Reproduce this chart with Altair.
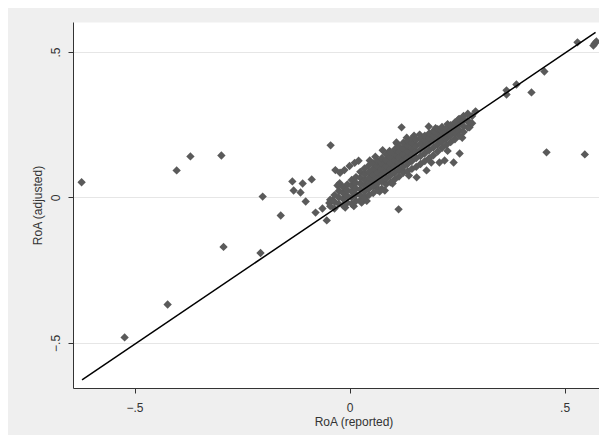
import altair as alt
import pandas as pd

# ---- texts / ticks ----
x_title = "RoA (reported)"
y_title = "RoA (adjusted)"
x_ticks = [-0.5, 0, 0.5]
y_ticks = [-0.5, 0, 0.5]

# ---- scattered firms away from the main cloud (reported, adjusted) ----
outliers_left = [
    (-0.623, 0.052), (-0.523, -0.481), (-0.423, -0.368), (-0.402, 0.093),
    (-0.370, 0.141), (-0.298, 0.144), (-0.293, -0.170), (-0.202, 0.003),
    (-0.207, -0.191), (-0.160, -0.062), (-0.133, 0.055), (-0.130, 0.024),
    (-0.109, 0.048), (-0.114, 0.017), (-0.088, 0.062), (-0.102, -0.014),
    (-0.079, -0.052), (-0.053, -0.079), (-0.044, 0.179), (-0.063, -0.038),
    (-0.033, 0.094), (-0.022, 0.085), (-0.012, 0.094), (0.000, 0.108),
    (0.012, 0.119), (0.021, 0.126), (-0.023, 0.049), (-0.047, -0.019),
    (-0.040, -0.010), (-0.028, 0.041),
]
outliers_right = [
    (0.458, 0.155), (0.547, 0.148), (0.423, 0.361), (0.365, 0.354),
    (0.365, 0.368), (0.388, 0.388), (0.453, 0.433), (0.530, 0.533),
    (0.570, 0.529), (0.574, 0.536), (0.567, 0.522), (0.293, 0.296),
    (0.253, 0.268), (0.274, 0.265), (0.279, 0.241), (0.184, 0.244),
    (0.121, 0.241), (0.221, 0.127), (0.242, 0.120), (0.156, 0.069),
    (0.109, 0.189), (0.114, -0.041),
]
# ---- ragged edge points of the cloud ----
cloud_edges = [
    (0.047, 0.127), (0.077, 0.162), (0.093, 0.160), (0.060, 0.140),
    (0.028, -0.018), (0.063, 0.034), (0.070, 0.020), (0.082, 0.024),
    (0.100, 0.048), (0.123, 0.093), (0.179, 0.093), (0.209, 0.120),
    (0.256, 0.151), (0.190, 0.120), (0.138, 0.075), (0.040, -0.012),
    (0.133, 0.205), (0.163, 0.216), (0.200, 0.238), (0.228, 0.252),
    (0.150, 0.212), (0.110, 0.185), (0.228, 0.160), (0.262, 0.205),
    (-0.010, -0.035), (0.010, -0.030),
]
# ---- main cloud along the diagonal ----
cluster = [
    (-0.045, -0.030), (-0.045, -0.008),
    (-0.035, -0.038), (-0.035, -0.015), (-0.035, 0.008),
    (-0.025, -0.022), (-0.025, 0.000), (-0.025, 0.022),
    (-0.015, -0.028), (-0.015, -0.005), (-0.015, 0.015), (-0.015, 0.035),
    (-0.005, -0.018), (-0.005, 0.005), (-0.005, 0.025), (-0.005, 0.045),
    (0.005, -0.022), (0.005, 0.000), (0.005, 0.020), (0.005, 0.040), (0.005, 0.060),
    (0.015, -0.012), (0.015, 0.010), (0.015, 0.030), (0.015, 0.050), (0.015, 0.070),
    (0.025, -0.010), (0.025, 0.008), (0.025, 0.028), (0.025, 0.048), (0.025, 0.068), (0.025, 0.088),
    (0.035, 0.000), (0.035, 0.020), (0.035, 0.040), (0.035, 0.060), (0.035, 0.080), (0.035, 0.100),
    (0.045, 0.008), (0.045, 0.030), (0.045, 0.050), (0.045, 0.068), (0.045, 0.088), (0.045, 0.110),
    (0.055, 0.015), (0.055, 0.038), (0.055, 0.058), (0.055, 0.078), (0.055, 0.098), (0.055, 0.118),
    (0.065, 0.025), (0.065, 0.048), (0.065, 0.068), (0.065, 0.088), (0.065, 0.108), (0.065, 0.125),
    (0.075, 0.030), (0.075, 0.055), (0.075, 0.078), (0.075, 0.098), (0.075, 0.118), (0.075, 0.135),
    (0.085, 0.045), (0.085, 0.065), (0.085, 0.088), (0.085, 0.108), (0.085, 0.128), (0.085, 0.148),
    (0.095, 0.052), (0.095, 0.075), (0.095, 0.098), (0.095, 0.118), (0.095, 0.138), (0.095, 0.155),
    (0.105, 0.062), (0.105, 0.085), (0.105, 0.108), (0.105, 0.128), (0.105, 0.148), (0.105, 0.165),
    (0.115, 0.072), (0.115, 0.095), (0.115, 0.118), (0.115, 0.138), (0.115, 0.158), (0.115, 0.175),
    (0.125, 0.085), (0.125, 0.105), (0.125, 0.128), (0.125, 0.148), (0.125, 0.168), (0.125, 0.188),
    (0.135, 0.090), (0.135, 0.115), (0.135, 0.138), (0.135, 0.158), (0.135, 0.178), (0.135, 0.195),
    (0.145, 0.098), (0.145, 0.125), (0.145, 0.148), (0.145, 0.168), (0.145, 0.188), (0.145, 0.202),
    (0.155, 0.105), (0.155, 0.135), (0.155, 0.158), (0.155, 0.178), (0.155, 0.198),
    (0.165, 0.115), (0.165, 0.142), (0.165, 0.165), (0.165, 0.185), (0.165, 0.205),
    (0.175, 0.125), (0.175, 0.152), (0.175, 0.175), (0.175, 0.195), (0.175, 0.212),
    (0.185, 0.135), (0.185, 0.162), (0.185, 0.185), (0.185, 0.205), (0.185, 0.220),
    (0.195, 0.145), (0.195, 0.172), (0.195, 0.195), (0.195, 0.212), (0.195, 0.228),
    (0.205, 0.158), (0.205, 0.182), (0.205, 0.202), (0.205, 0.220), (0.205, 0.235),
    (0.215, 0.170), (0.215, 0.192), (0.215, 0.212), (0.215, 0.228), (0.215, 0.242),
    (0.225, 0.180), (0.225, 0.202), (0.225, 0.222), (0.225, 0.238),
    (0.235, 0.190), (0.235, 0.212), (0.235, 0.232), (0.235, 0.248),
    (0.245, 0.200), (0.245, 0.222), (0.245, 0.242), (0.245, 0.258),
    (0.255, 0.212), (0.255, 0.232), (0.255, 0.252), (0.255, 0.270),
    (0.265, 0.225), (0.265, 0.245), (0.265, 0.265), (0.265, 0.280),
    (0.275, 0.240), (0.275, 0.260), (0.275, 0.288),
    (0.285, 0.255), (0.285, 0.280),
]

# ---- fitted line end points ----
fit_x = [-0.622, 0.572]
fit_y = [-0.627, 0.567]

pts = pd.DataFrame(outliers_left + outliers_right + cloud_edges + cluster,
                   columns=["reported", "adjusted"])
fit = pd.DataFrame({"reported": fit_x, "adjusted": fit_y})

FONT = "Liberation Sans, Arial, sans-serif"
label_expr = "datum.value == 0 ? '0' : replace(format(datum.value, '.1f'), '0.', '.')"

xscale = alt.Scale(domain=[-0.643, 0.580], nice=False, zero=False)
yscale = alt.Scale(domain=[-0.655, 0.603], nice=False, zero=False)

xaxis = alt.Axis(
    values=x_ticks, labelExpr=label_expr, grid=False, tickSize=5,
    labelPadding=18, labelBaseline="alphabetic", labelAlign="center",
    title=x_title, titleX=280.5, titleY=37, titleBaseline="alphabetic",
    titleAlign="center",
)
yaxis = alt.Axis(
    values=y_ticks, labelExpr=label_expr, grid=True, gridColor="#e6e6e6",
    tickSize=5, labelAngle=270, labelAlign="center", labelBaseline="alphabetic",
    labelPadding=9, title=y_title, titleAngle=270, titleX=-32, titleY=183,
    titleBaseline="alphabetic", titleAlign="center",
)

points = alt.Chart(pts).mark_point(
    shape="diamond", filled=True, size=70, color="#5a5a5a", opacity=1
).encode(
    x=alt.X("reported:Q", scale=xscale, axis=xaxis),
    y=alt.Y("adjusted:Q", scale=yscale, axis=yaxis),
)

line = alt.Chart(fit).mark_line(color="black", strokeWidth=1.5).encode(
    x=alt.X("reported:Q", scale=xscale),
    y=alt.Y("adjusted:Q", scale=yscale),
)

chart = (
    alt.layer(points, line)
    .properties(
        width=526,
        height=366,
        autosize=alt.AutoSizeParams(type="none"),
        padding={"left": 65, "top": 14, "right": 0, "bottom": 47},
    )
    .configure(background="#efefef", font=FONT)
    .configure_view(stroke="transparent", fill="white")
    .configure_axis(
        labelFont=FONT, titleFont=FONT, labelFontSize=12, titleFontSize=12,
        labelColor="#333333", titleColor="#333333", titleFontWeight="normal",
        domainColor="#333333", tickColor="#333333", domainWidth=1, tickWidth=1,
    )
)

chart.save("out.html", embed_options={"renderer": "svg", "actions": False})
